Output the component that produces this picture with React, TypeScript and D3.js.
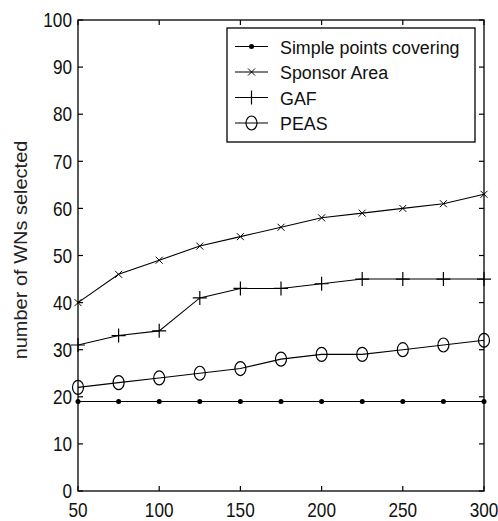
import React from "react";
import * as d3 from "d3";

const xValues = [50, 75, 100, 125, 150, 175, 200, 225, 250, 275, 300];
const simplePoints = [19, 19, 19, 19, 19, 19, 19, 19, 19, 19, 19];
const sponsorArea = [40, 46, 49, 52, 54, 56, 58, 59, 60, 61, 63];
const gaf = [31, 33, 34, 41, 43, 43, 44, 45, 45, 45, 45];
const peas = [22, 23, 24, 25, 26, 28, 29, 29, 30, 31, 32];
const seriesNames = ["Simple points covering", "Sponsor Area", "GAF", "PEAS"];
const xTicks = [50, 100, 150, 200, 250, 300];
const yTicks = [0, 10, 20, 30, 40, 50, 60, 70, 80, 90, 100];
const yLabel = "number of WNs selected";

const W = 498;
const H = 521;
const left = 78, right = 484, top = 20, bottom = 491;
const FONT = "'Liberation Sans', Arial, sans-serif";

type MarkerKind = "dot" | "x" | "plus" | "circle";

function Marker({ kind, x, y }: { kind: MarkerKind; x: number; y: number }) {
  if (kind === "dot") return <circle cx={x} cy={y} r={2.5} fill="#000" />;
  if (kind === "x")
    return (
      <path
        d={`M${x - 3.5},${y - 3.5}L${x + 3.5},${y + 3.5}M${x - 3.5},${y + 3.5}L${x + 3.5},${y - 3.5}`}
        stroke="#000"
        strokeWidth={1}
      />
    );
  if (kind === "plus")
    return (
      <path
        d={`M${x - 7},${y}L${x + 7},${y}M${x},${y - 7}L${x},${y + 7}`}
        stroke="#000"
        strokeWidth={1.2}
      />
    );
  return <ellipse cx={x} cy={y} rx={5.5} ry={7} fill="none" stroke="#000" strokeWidth={1.2} />;
}

export default function App() {
  const x = d3.scaleLinear().domain([50, 300]).range([left, right]);
  const y = d3.scaleLinear().domain([0, 100]).range([bottom, top]);
  const series: { name: string; values: number[]; kind: MarkerKind }[] = [
    { name: seriesNames[0], values: simplePoints, kind: "dot" },
    { name: seriesNames[1], values: sponsorArea, kind: "x" },
    { name: seriesNames[2], values: gaf, kind: "plus" },
    { name: seriesNames[3], values: peas, kind: "circle" },
  ];
  const line = d3
    .line<number>()
    .x((_, i) => x(xValues[i]))
    .y((d) => y(d));

  const legX = 227, legY = 28, legW = 248, legH = 114;
  const rowY = (i: number) => 46.5 + i * 25.5;

  return (
    <svg
      width={W}
      height={H}
      style={{ position: "absolute", left: 0, top: 0, background: "#fff" }}
      fontFamily={FONT}
    >
      <rect x={0} y={0} width={W} height={H} fill="#fff" />
      {series.map((s) => (
        <g key={s.name}>
          <path d={line(s.values) || ""} fill="none" stroke="#000" strokeWidth={1.1} />
          {s.values.map((v, i) => (
            <Marker key={i} kind={s.kind} x={x(xValues[i])} y={y(v)} />
          ))}
        </g>
      ))}
      <rect
        x={left}
        y={top}
        width={right - left}
        height={bottom - top}
        fill="none"
        stroke="#000"
        strokeWidth={1.3}
      />
      {xTicks.map((t) => (
        <g key={"x" + t}>
          <line x1={x(t)} x2={x(t)} y1={bottom} y2={bottom - 5} stroke="#000" strokeWidth={1.2} />
          <line x1={x(t)} x2={x(t)} y1={top} y2={top + 5} stroke="#000" strokeWidth={1.2} />
          <text
            transform={`translate(${x(t)},517) scale(0.86,1)`}
            textAnchor="middle"
            fontSize={20}
            fill="#111"
          >
            {t}
          </text>
        </g>
      ))}
      {yTicks.map((t) => (
        <g key={"y" + t}>
          <line x1={left} x2={left + 5} y1={y(t)} y2={y(t)} stroke="#000" strokeWidth={1.2} />
          <line x1={right} x2={right - 5} y1={y(t)} y2={y(t)} stroke="#000" strokeWidth={1.2} />
          <text
            transform={`translate(72,${y(t) + 7.2}) scale(0.86,1)`}
            textAnchor="end"
            fontSize={20}
            fill="#111"
          >
            {t}
          </text>
        </g>
      ))}
      <text
        transform={`translate(27,250) rotate(-90) scale(1.08,1)`}
        textAnchor="middle"
        fontSize={18.5}
        fill="#222"
      >
        {yLabel}
      </text>
      <rect x={legX} y={legY} width={legW} height={legH} fill="#fff" stroke="#000" strokeWidth={1.3} />
      {series.map((s, i) => (
        <g key={"leg" + i}>
          <line x1={235} x2={268} y1={rowY(i)} y2={rowY(i)} stroke="#000" strokeWidth={1.1} />
          <Marker kind={s.kind} x={251.5} y={rowY(i)} />
          <text
            transform={`translate(280,${rowY(i) + 7}) scale(0.94,1)`}
            fontSize={19}
            fill="#111"
          >
            {s.name}
          </text>
        </g>
      ))}
    </svg>
  );
}
